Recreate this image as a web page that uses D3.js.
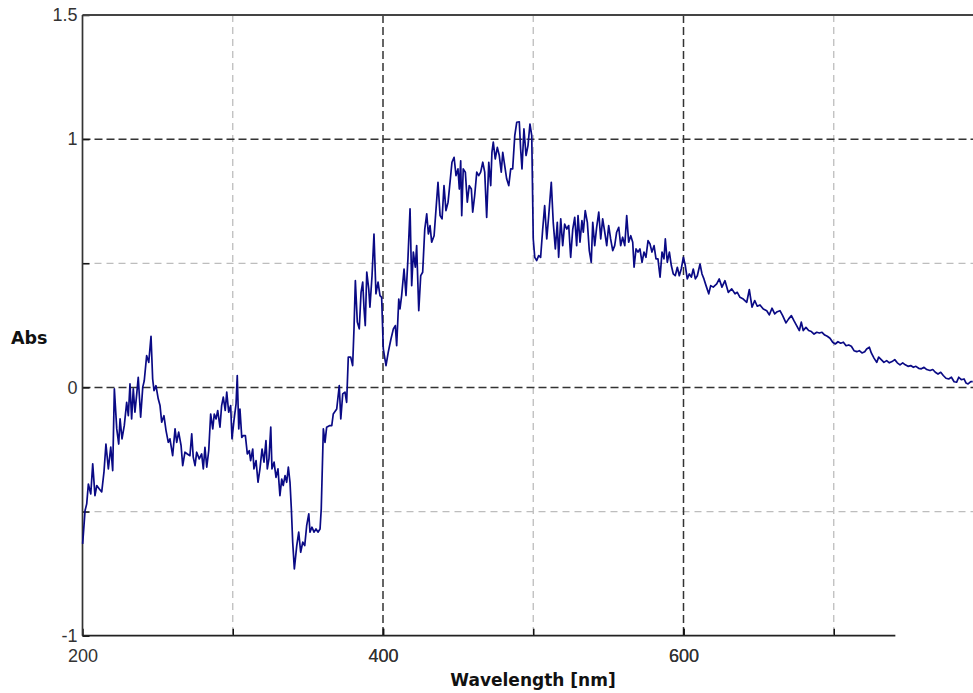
<!DOCTYPE html>
<html>
<head>
<meta charset="utf-8">
<script src="https://cdn.jsdelivr.net/npm/d3@7"></script>
<style>
  body { margin: 0; background: #fff; }
  svg { display: block; }
</style>
</head>
<body>
<div id="chart"></div>
<script>
// wavelength (nm)
var wavelength = [
  200.1,201.7,202.8,203.9,205.5,206.8,208.3,209.5,211.2,212.8,214.3,215.6,217.2,218.8,220.1,221.2,222.8,224.1,225.0,226.3,
  227.8,229.4,230.5,231.6,232.7,233.8,234.9,236.1,237.1,238.7,240.1,241.1,242.7,244.1,245.6,246.7,247.6,248.9,250.4,251.6,
  252.7,254.2,255.6,257.1,258.2,260.0,261.6,262.7,264.0,265.6,266.7,268.2,269.8,271.5,272.7,273.7,274.9,276.0,277.7,279.3,
  280.4,281.5,282.7,284.0,285.3,286.7,287.7,288.9,290.0,291.5,292.6,293.7,295.0,296.0,297.3,298.6,299.5,300.8,302.2,303.0,
  304.0,304.8,306.0,307.0,308.4,309.7,311.0,311.9,313.3,314.1,315.5,316.8,318.1,319.5,320.8,322.1,323.0,324.1,325.3,326.1,
  327.5,328.8,330.1,331.4,332.6,333.6,334.8,335.9,337.0,338.1,339.0,339.9,341.0,342.6,343.9,345.2,346.6,347.9,349.2,350.6,
  351.4,352.7,354.1,355.4,356.7,358.1,358.9,360.3,361.4,362.5,364.3,365.9,366.9,369.2,370.9,371.9,373.2,374.7,375.8,376.9,
  378.5,379.8,380.7,381.6,382.9,384.2,385.4,386.5,387.4,388.2,389.2,390.5,391.3,392.7,394.0,395.3,396.7,398.0,399.1,400.2,
  402.0,403.5,405.3,406.9,408.2,409.1,410.5,411.3,412.4,414.0,415.3,416.6,418.0,419.1,420.2,421.5,422.4,423.8,425.1,426.4,
  427.8,429.1,430.2,431.3,432.4,434.0,435.3,436.6,438.0,439.3,440.6,441.9,443.3,444.6,445.9,447.3,448.6,449.9,450.8,451.7,
  452.4,453.4,454.8,456.1,457.4,458.8,459.7,461.0,462.4,463.7,465.0,466.4,467.7,469.0,470.4,471.7,472.5,473.4,474.7,476.1,
  477.4,478.7,479.7,481.0,482.3,483.7,485.0,486.3,487.7,489.0,490.7,491.6,492.5,493.8,495.2,496.5,497.8,499.0,500.0,501.0,
  502.3,503.6,504.9,506.3,507.6,509.0,510.3,512.0,513.3,514.7,516.0,516.9,518.3,519.6,520.9,522.3,523.6,524.9,526.3,527.6,
  528.9,529.8,531.1,532.4,533.3,534.6,536.0,537.3,538.6,539.6,540.9,542.2,543.6,544.9,546.2,547.6,548.9,550.2,551.5,552.9,
  554.2,555.5,556.9,558.2,559.5,560.9,562.2,563.5,564.9,566.2,567.1,568.4,569.7,571.0,572.4,573.7,575.0,576.4,577.7,579.0,
  580.4,581.7,583.0,584.4,585.7,587.0,587.9,589.2,590.6,591.9,593.2,594.5,595.9,597.2,598.5,599.9,601.2,602.5,603.9,605.2,
  606.5,607.9,609.2,611.0,612.3,613.6,615.0,616.8,618.1,619.8,622.1,623.8,625.6,627.6,629.8,632.1,634.3,635.8,637.6,639.8,
  642.1,643.8,645.6,647.4,649.1,650.9,653.1,655.4,657.1,658.9,660.7,662.4,664.2,666.0,668.2,670.0,671.8,673.5,675.3,677.1,
  678.4,679.7,681.5,683.3,685.1,686.9,688.7,690.4,692.2,694.0,695.7,697.5,699.3,701.0,702.8,704.6,706.4,708.2,710.0,711.7,
  713.5,715.3,717.0,718.8,720.6,721.9,723.7,725.0,726.8,728.6,729.9,731.6,733.4,735.2,737.0,738.8,740.6,742.3,744.1,745.9,
  747.6,749.4,751.2,753.0,754.7,756.5,758.3,760.1,761.9,764.1,765.9,767.6,769.4,771.2,772.9,774.7,776.5,778.3,780.1,781.8,
  783.2,784.9,786.7,788.0,789.4,791.2,792.5
];

// absorbance
var absorbance = [
  -0.630,-0.496,-0.469,-0.389,-0.429,-0.308,-0.436,-0.395,-0.409,-0.421,-0.340,-0.228,-0.328,-0.240,-0.335,-0.006,-0.167,-0.228,-0.127,-0.207,
  -0.154,-0.060,-0.114,0.014,-0.127,-0.006,-0.100,-0.026,0.041,-0.120,0.001,0.027,0.128,0.101,0.206,0.034,-0.013,0.007,-0.046,-0.073,
  -0.140,-0.114,-0.174,-0.221,-0.207,-0.275,-0.167,-0.221,-0.180,-0.234,-0.315,-0.261,-0.268,-0.275,-0.187,-0.281,-0.315,-0.261,-0.288,-0.268,
  -0.328,-0.241,-0.321,-0.255,-0.107,-0.167,-0.107,-0.127,-0.093,-0.160,-0.073,-0.039,-0.093,-0.019,-0.100,-0.073,-0.207,-0.134,-0.066,0.048,
  -0.167,-0.087,-0.201,-0.194,-0.194,-0.268,-0.255,-0.295,-0.248,-0.328,-0.295,-0.382,-0.328,-0.248,-0.301,-0.214,-0.328,-0.288,-0.160,-0.328,
  -0.301,-0.362,-0.328,-0.436,-0.369,-0.395,-0.355,-0.382,-0.321,-0.382,-0.489,-0.623,-0.731,-0.637,-0.583,-0.664,-0.623,-0.637,-0.557,-0.509,
  -0.583,-0.563,-0.583,-0.570,-0.583,-0.570,-0.489,-0.167,-0.221,-0.160,-0.154,-0.154,-0.107,-0.087,0.007,-0.127,-0.026,-0.019,-0.060,0.122,
  0.122,0.088,0.236,0.430,0.263,0.236,0.383,0.424,0.316,0.249,0.464,0.397,0.323,0.450,0.618,0.377,0.424,0.370,0.363,0.155,
  0.088,0.142,0.195,0.236,0.249,0.168,0.356,0.316,0.370,0.477,0.370,0.518,0.719,0.410,0.545,0.484,0.571,0.309,0.450,0.464,
  0.638,0.699,0.618,0.652,0.585,0.611,0.719,0.826,0.692,0.679,0.813,0.712,0.746,0.826,0.907,0.927,0.853,0.880,0.799,0.913,
  0.692,0.880,0.867,0.746,0.813,0.799,0.706,0.772,0.867,0.853,0.867,0.907,0.867,0.685,0.907,0.813,0.947,0.988,0.920,0.967,
  0.934,0.867,0.947,0.893,0.840,0.813,0.880,0.880,1.014,1.068,1.070,0.961,0.880,1.041,0.934,0.974,1.061,1.014,0.598,0.524,
  0.511,0.531,0.524,0.638,0.732,0.598,0.692,0.826,0.665,0.558,0.665,0.524,0.679,0.571,0.658,0.638,0.652,0.524,0.638,0.685,
  0.571,0.692,0.585,0.672,0.625,0.712,0.665,0.551,0.504,0.665,0.571,0.645,0.706,0.598,0.679,0.625,0.571,0.652,0.598,0.551,
  0.571,0.625,0.645,0.571,0.605,0.571,0.692,0.585,0.611,0.585,0.484,0.558,0.545,0.558,0.504,0.545,0.524,0.591,0.578,0.545,
  0.571,0.518,0.518,0.444,0.545,0.518,0.598,0.504,0.545,0.491,0.457,0.450,0.484,0.450,0.477,0.524,0.491,0.437,0.457,0.444,
  0.477,0.437,0.450,0.497,0.457,0.437,0.410,0.377,0.410,0.404,0.417,0.437,0.404,0.430,0.383,0.397,0.377,0.383,0.363,0.356,
  0.343,0.394,0.323,0.350,0.327,0.332,0.316,0.309,0.292,0.319,0.296,0.305,0.309,0.289,0.260,0.276,0.289,0.269,0.249,0.229,
  0.263,0.229,0.242,0.229,0.225,0.215,0.222,0.219,0.222,0.211,0.206,0.198,0.182,0.175,0.184,0.178,0.182,0.168,0.171,0.166,
  0.148,0.144,0.148,0.139,0.144,0.155,0.162,0.139,0.118,0.101,0.122,0.112,0.101,0.108,0.099,0.104,0.112,0.099,0.091,0.099,
  0.091,0.085,0.088,0.081,0.085,0.077,0.075,0.081,0.072,0.068,0.072,0.061,0.054,0.061,0.048,0.037,0.034,0.041,0.023,0.021,
  0.041,0.031,0.034,0.018,0.014,0.023,0.023
];

// ticks
var xTicks = [300, 400, 500, 600, 700];
var xLabels = [200, 400, 600];
var xMajorGrid = [400, 600];
var xMinorGrid = [300, 500, 700];
var yTicks = [-1, -0.5, 0, 0.5, 1, 1.5];
var yLabels = [-1, 0, 1, 1.5];
var yMajorGrid = [0, 1];
var yMinorGrid = [-0.5, 0.5];

var data = wavelength.map(function(w, i) { return { w: w, a: absorbance[i] }; });

var W = 973, H = 693;
var svg = d3.select("#chart").append("svg")
  .attr("width", W)
  .attr("height", H);

var x = d3.scaleLinear().domain([200, 800]).range([82.5, 984]);
var y = d3.scaleLinear().domain([-1, 1.5]).range([635.7, 15]);

var xAxisEnd = 741;   // bottom axis stops here in the original

//----------------GRID----------------//
var grid = svg.append("g").attr("class", "grid");

grid.selectAll(".vminor").data(xMinorGrid).enter().append("line")
  .attr("x1", function(d) { return x(d); })
  .attr("x2", function(d) { return x(d); })
  .attr("y1", y(1.5)).attr("y2", y(-1))
  .attr("stroke", "#bdbdbd").attr("stroke-width", 1.3)
  .attr("stroke-dasharray", "7,5");

grid.selectAll(".hminor").data(yMinorGrid).enter().append("line")
  .attr("x1", x(200)).attr("x2", W)
  .attr("y1", function(d) { return y(d); })
  .attr("y2", function(d) { return y(d); })
  .attr("stroke", "#bdbdbd").attr("stroke-width", 1.3)
  .attr("stroke-dasharray", "7,5");

grid.selectAll(".vmajor").data(xMajorGrid).enter().append("line")
  .attr("x1", function(d) { return x(d); })
  .attr("x2", function(d) { return x(d); })
  .attr("y1", y(1.5)).attr("y2", y(-1))
  .attr("stroke", "#333").attr("stroke-width", 1.5)
  .attr("stroke-dasharray", "8,4");

grid.selectAll(".hmajor").data(yMajorGrid).enter().append("line")
  .attr("x1", x(200)).attr("x2", W)
  .attr("y1", function(d) { return y(d); })
  .attr("y2", function(d) { return y(d); })
  .attr("stroke", "#333").attr("stroke-width", 1.5)
  .attr("stroke-dasharray", "8,4");

//----------------AXES----------------//
var yAxis = d3.axisLeft(y)
  .tickValues(yTicks)
  .tickSizeInner(-7)
  .tickSizeOuter(0)
  .tickPadding(5)
  .tickFormat(function(d) { return yLabels.indexOf(d) >= 0 ? String(d) : ""; });

var xAxis = d3.axisBottom(x)
  .tickValues(xLabels.concat(xTicks))
  .tickSizeInner(-7)
  .tickSizeOuter(0)
  .tickPadding(14)
  .tickFormat(function(d) { return xLabels.indexOf(d) >= 0 ? String(d) : ""; });

var gy = svg.append("g")
  .attr("transform", "translate(" + x(200) + ",0)")
  .call(yAxis);

var gx = svg.append("g")
  .attr("transform", "translate(0," + y(-1) + ")")
  .call(xAxis);

[gx, gy].forEach(function(g) {
  g.select(".domain").remove();
  g.selectAll(".tick line").attr("stroke", "#111").attr("stroke-width", 1.5);
  g.selectAll(".tick text")
    .attr("fill", "#333")
    .style("font-family", "'Liberation Sans', Arial, sans-serif")
    .style("font-size", "18px");
});

// frame lines
svg.append("line")
  .attr("x1", x(200)).attr("x2", W)
  .attr("y1", y(1.5)).attr("y2", y(1.5))
  .attr("stroke", "#444").attr("stroke-width", 1.8);

svg.append("line")
  .attr("x1", x(200)).attr("x2", x(200))
  .attr("y1", y(1.5)).attr("y2", y(-1))
  .attr("stroke", "#333").attr("stroke-width", 1.7);

svg.append("line")
  .attr("x1", x(200)).attr("x2", x(xAxisEnd))
  .attr("y1", y(-1)).attr("y2", y(-1))
  .attr("stroke", "#222").attr("stroke-width", 1.7);

//----------------SPECTRUM----------------//
var line = d3.line()
  .x(function(d) { return x(d.w); })
  .y(function(d) { return y(d.a); });

svg.append("path")
  .datum(data)
  .attr("d", line)
  .attr("fill", "none")
  .attr("stroke", "#0a0a85")
  .attr("stroke-width", 1.7)
  .attr("stroke-linejoin", "round");

//----------------LABELS----------------//
svg.append("text")
  .attr("x", 11)
  .attr("y", 344)
  .attr("fill", "#111")
  .style("font-family", "'DejaVu Sans', Verdana, sans-serif")
  .style("font-weight", "bold")
  .style("font-size", "17.5px")
  .text("Abs");

svg.append("text")
  .attr("x", 533)
  .attr("y", 686)
  .attr("text-anchor", "middle")
  .attr("fill", "#111")
  .style("font-family", "'DejaVu Sans', Verdana, sans-serif")
  .style("font-weight", "bold")
  .style("font-size", "17px")
  .text("Wavelength [nm]");
</script>
</body>
</html>
